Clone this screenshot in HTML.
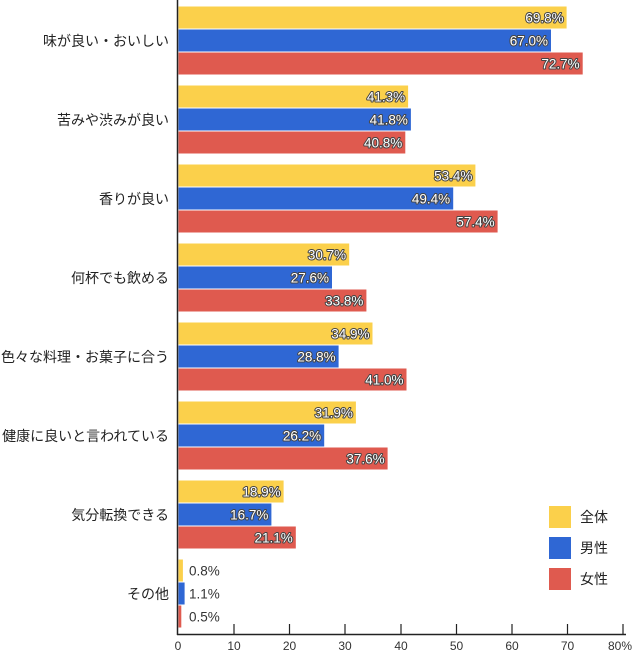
<!DOCTYPE html>
<html><head><meta charset="utf-8"><style>
html,body{margin:0;padding:0;background:#fff;}
svg{display:block;font-family:"Liberation Sans","Noto Sans CJK JP",sans-serif;}
.v{font-size:13.5px;fill:#fff;stroke:#444;stroke-width:2px;paint-order:stroke;stroke-linejoin:round;}
.vo{font-size:13.5px;fill:#333;}
.c{font-size:14px;fill:#222;}
.t{font-size:12px;fill:#333;}
.y{fill:#fbd04b}.b{fill:#2f67d4}.r{fill:#df5a4f}
</style></head><body>
<svg width="640" height="655" viewBox="0 0 640 655" xmlns="http://www.w3.org/2000/svg">
<g class="c" text-anchor="end">
<text x="169" y="46">味が良い・おいしい</text>
<text x="169" y="125">苦みや渋みが良い</text>
<text x="169" y="204">香りが良い</text>
<text x="169" y="283">何杯でも飲める</text>
<text x="169" y="362">色々な料理・お菓子に合う</text>
<text x="169" y="441">健康に良いと言われている</text>
<text x="169" y="520">気分転換できる</text>
<text x="169" y="599">その他</text>
</g>
<g>
<rect class="y" x="178.5" y="6.5" width="388.1" height="22"/><rect class="b" x="178.5" y="29.5" width="372.5" height="22"/><rect class="r" x="178.5" y="52.5" width="404.2" height="22"/>
<rect class="y" x="178.5" y="85.5" width="229.6" height="22"/><rect class="b" x="178.5" y="108.5" width="232.4" height="22"/><rect class="r" x="178.5" y="131.5" width="226.8" height="22"/>
<rect class="y" x="178.5" y="164.5" width="296.9" height="22"/><rect class="b" x="178.5" y="187.5" width="274.7" height="22"/><rect class="r" x="178.5" y="210.5" width="319.1" height="22"/>
<rect class="y" x="178.5" y="243.5" width="170.7" height="22"/><rect class="b" x="178.5" y="266.5" width="153.5" height="22"/><rect class="r" x="178.5" y="289.5" width="187.9" height="22"/>
<rect class="y" x="178.5" y="322.5" width="194.0" height="22"/><rect class="b" x="178.5" y="345.5" width="160.1" height="22"/><rect class="r" x="178.5" y="368.5" width="228.0" height="22"/>
<rect class="y" x="178.5" y="401.5" width="177.4" height="22"/><rect class="b" x="178.5" y="424.5" width="145.7" height="22"/><rect class="r" x="178.5" y="447.5" width="209.1" height="22"/>
<rect class="y" x="178.5" y="480.5" width="105.1" height="22"/><rect class="b" x="178.5" y="503.5" width="92.9" height="22"/><rect class="r" x="178.5" y="526.5" width="117.3" height="22"/>
<rect class="y" x="178.5" y="559.5" width="4.4" height="22"/><rect class="b" x="178.5" y="582.5" width="6.1" height="22"/><rect class="r" x="178.5" y="605.5" width="2.8" height="22"/>
</g>
<g class="v" text-anchor="end">
<text x="563.6" y="22.5">69.8%</text><text x="548" y="45.5">67.0%</text><text x="579.7" y="68.5">72.7%</text>
<text x="405.1" y="101.5">41.3%</text><text x="407.9" y="124.5">41.8%</text><text x="402.3" y="147.5">40.8%</text>
<text x="472.4" y="180.5">53.4%</text><text x="450.2" y="203.5">49.4%</text><text x="494.6" y="226.5">57.4%</text>
<text x="346.2" y="259.5">30.7%</text><text x="329" y="282.5">27.6%</text><text x="363.4" y="305.5">33.8%</text>
<text x="369.5" y="338.5">34.9%</text><text x="335.6" y="361.5">28.8%</text><text x="403.5" y="384.5">41.0%</text>
<text x="352.9" y="417.5">31.9%</text><text x="321.2" y="440.5">26.2%</text><text x="384.6" y="463.5">37.6%</text>
<text x="280.6" y="496.5">18.9%</text><text x="268.4" y="519.5">16.7%</text><text x="292.8" y="542.5">21.1%</text>
</g>
<g class="vo">
<text x="189" y="575.5">0.8%</text><text x="189" y="598.5">1.1%</text><text x="189" y="621.5">0.5%</text>
</g>
<line x1="177.5" y1="0" x2="177.5" y2="635" stroke="#222" stroke-width="1.5"/>
<line x1="177" y1="634.5" x2="626" y2="634.5" stroke="#222" stroke-width="1.5"/>
<g stroke="#222" stroke-width="1.2">
<line x1="234" y1="624" x2="234" y2="634"/><line x1="289.5" y1="624" x2="289.5" y2="634"/>
<line x1="345" y1="624" x2="345" y2="634"/><line x1="401" y1="624" x2="401" y2="634"/>
<line x1="456.5" y1="624" x2="456.5" y2="634"/><line x1="512" y1="624" x2="512" y2="634"/>
<line x1="567.5" y1="624" x2="567.5" y2="634"/><line x1="623" y1="624" x2="623" y2="634"/>
</g>
<g class="t" text-anchor="middle">
<text x="178" y="650">0</text><text x="234" y="650">10</text><text x="289.5" y="650">20</text>
<text x="345" y="650">30</text><text x="401" y="650">40</text><text x="456.5" y="650">50</text>
<text x="512" y="650">60</text><text x="567.5" y="650">70</text><text x="620" y="650">80%</text>
</g>
<rect x="549" y="506" width="22" height="22" fill="#fbd04b"/>
<rect x="549" y="537" width="22" height="22" fill="#2f67d4"/>
<rect x="549" y="568" width="22" height="22" fill="#df5a4f"/>
<g class="c"><text x="580" y="522">全体</text><text x="580" y="553">男性</text><text x="580" y="584">女性</text></g>
</svg>
</body></html>
